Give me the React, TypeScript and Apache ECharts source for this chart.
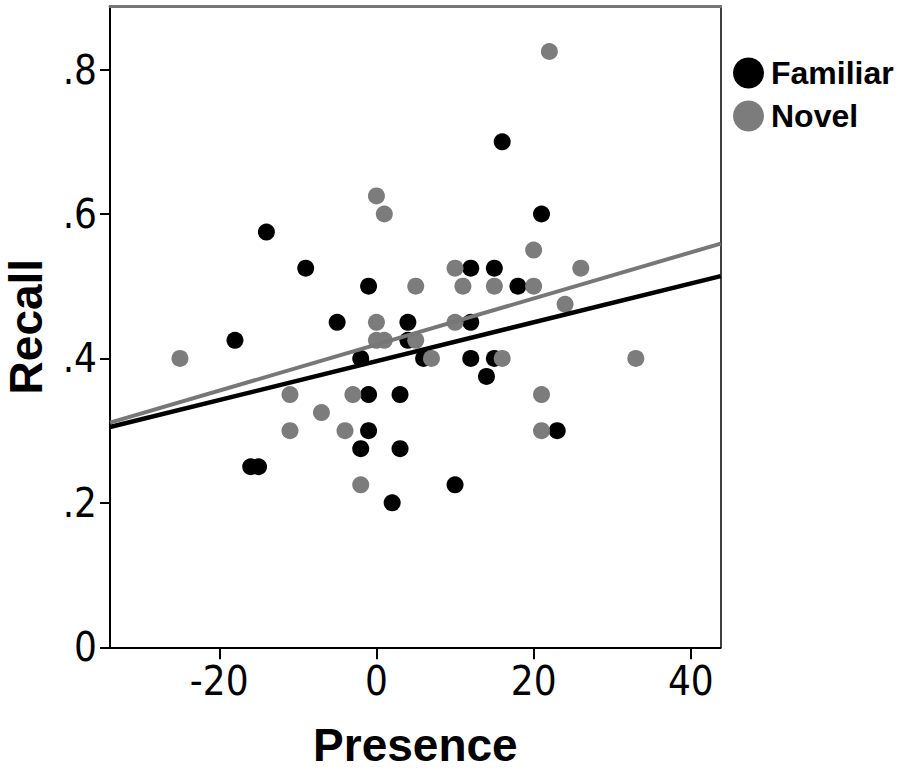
import React, { useEffect, useRef } from "react";
import * as echarts from "echarts";

const xTicks = [-20, 0, 20, 40];
const yTicks = [0, 0.2, 0.4, 0.6, 0.8];
const yTickLabels = ["0", ".2", ".4", ".6", ".8"];

const familiarPresence = [-18, -16, -15, -14, -9, -5, -2, -2, -1, -1, -1, 2, 3, 3, 4, 4, 6, 10, 12, 12, 12, 14, 15, 15, 16, 18, 21, 23];
const familiarRecall = [0.425, 0.25, 0.25, 0.575, 0.525, 0.45, 0.4, 0.275, 0.5, 0.35, 0.3, 0.2, 0.35, 0.275, 0.45, 0.425, 0.4, 0.225, 0.525, 0.45, 0.4, 0.375, 0.525, 0.4, 0.7, 0.5, 0.6, 0.3];

const novelPresence = [-25, -11, -11, -7, -4, -3, -2, 0, 0, 0, 1, 1, 5, 5, 7, 10, 10, 11, 15, 16, 20, 20, 21, 21, 22, 24, 26, 33];
const novelRecall = [0.4, 0.35, 0.3, 0.325, 0.3, 0.35, 0.225, 0.625, 0.45, 0.425, 0.6, 0.425, 0.5, 0.425, 0.4, 0.525, 0.45, 0.5, 0.5, 0.4, 0.55, 0.5, 0.35, 0.3, 0.825, 0.475, 0.525, 0.4];

const fitPresence = [-33.9, 43.8];
const familiarFitRecall = [0.305, 0.514];
const novelFitRecall = [0.311, 0.559];

const X_MIN = -33.9;
const X_MAX = 43.8;
const Y_MIN = 0;
const Y_MAX = 0.888;

const zip = (xs: number[], ys: number[]) => xs.map((x, i) => [x, ys[i]]);

const NARROW = "'Liberation Sans Narrow', 'Arial Narrow', 'DejaVu Sans Condensed', sans-serif";
const SANS = "'Liberation Sans', Arial, sans-serif";

export default function App() {
  const ref = useRef<HTMLDivElement>(null);
  useEffect(() => {
    document.body.style.margin = "0";
    const chart = echarts.init(ref.current!, null, { renderer: "svg" });
    chart.setOption({
      animation: false,
      backgroundColor: "#fff",
      grid: { left: 110, right: 179.3, top: 6, bottom: 124.7, containLabel: false, outerBoundsMode: "none" },
      legend: {
        data: ["Familiar", "Novel"],
        orient: "vertical",
        left: 728,
        top: 52,
        itemWidth: 31,
        itemHeight: 31,
        itemGap: 11,
        icon: "circle",
        textStyle: {
          fontFamily: SANS,
          fontWeight: "bold",
          fontSize: 32,
          color: "#000",
          padding: [0, 0, 0, 2],
        },
      },
      xAxis: [
        {
          type: "value",
          position: "bottom",
          min: X_MIN,
          max: X_MAX,
          name: "Presence",
          nameLocation: "middle",
          nameGap: 78,
          nameTextStyle: { fontFamily: SANS, fontWeight: "bold", fontSize: 46, lineHeight: 40, color: "#000" },
          axisLine: { show: true, onZero: false, lineStyle: { color: "#000", width: 2 } },
          axisTick: { show: true, length: 12, lineStyle: { color: "#000", width: 2 }, customValues: xTicks },
          axisLabel: { customValues: xTicks, margin: 14, fontFamily: NARROW, fontSize: 40, color: "#000" },
          splitLine: { show: false },
        },
        {
          type: "value",
          position: "top",
          min: X_MIN,
          max: X_MAX,
          axisLine: { show: true, onZero: false, lineStyle: { color: "#777", width: 3 } },
          axisTick: { show: false },
          axisLabel: { show: false },
          splitLine: { show: false },
        },
      ],
      yAxis: [
        {
          type: "value",
          position: "left",
          min: Y_MIN,
          max: Y_MAX,
          name: "Recall",
          nameLocation: "middle",
          nameGap: 64,
          nameRotate: 90,
          nameTextStyle: { fontFamily: SANS, fontWeight: "bold", fontSize: 46, lineHeight: 40, color: "#000" },
          axisLine: { show: true, onZero: false, lineStyle: { color: "#000", width: 2 } },
          axisTick: { show: true, length: 10, lineStyle: { color: "#000", width: 2 }, customValues: yTicks },
          axisLabel: {
            customValues: yTicks,
            margin: 13,
            fontFamily: NARROW,
            fontSize: 40,
            color: "#000",
            formatter: (v: number) => {
              const i = yTicks.findIndex((t) => Math.abs(t - v) < 1e-6);
              return i >= 0 ? yTickLabels[i] : "";
            },
          },
          splitLine: { show: false },
        },
        {
          type: "value",
          position: "right",
          min: Y_MIN,
          max: Y_MAX,
          axisLine: { show: true, onZero: false, lineStyle: { color: "#000", width: 1.5 } },
          axisTick: { show: false },
          axisLabel: { show: false },
          splitLine: { show: false },
        },
      ],
      series: [
        {
          name: "Familiar",
          type: "scatter",
          data: zip(familiarPresence, familiarRecall),
          symbol: "circle",
          symbolSize: 17,
          itemStyle: { color: "#000", opacity: 1 },
          z: 2,
        },
        {
          name: "Novel",
          type: "scatter",
          data: zip(novelPresence, novelRecall),
          symbol: "circle",
          symbolSize: 17,
          itemStyle: { color: "#7c7c7c", opacity: 1 },
          z: 2,
        },
        {
          name: "Familiar fit",
          type: "line",
          data: zip(fitPresence, familiarFitRecall),
          showSymbol: false,
          symbol: "none",
          silent: true,
          lineStyle: { color: "#000", width: 4.5 },
          z: 3,
        },
        {
          name: "Novel fit",
          type: "line",
          data: zip(fitPresence, novelFitRecall),
          showSymbol: false,
          symbol: "none",
          silent: true,
          lineStyle: { color: "#777", width: 4 },
          z: 4,
        },
      ],
    });
    return () => chart.dispose();
  }, []);
  return <div ref={ref} style={{ width: 900, height: 772 }} />;
}
